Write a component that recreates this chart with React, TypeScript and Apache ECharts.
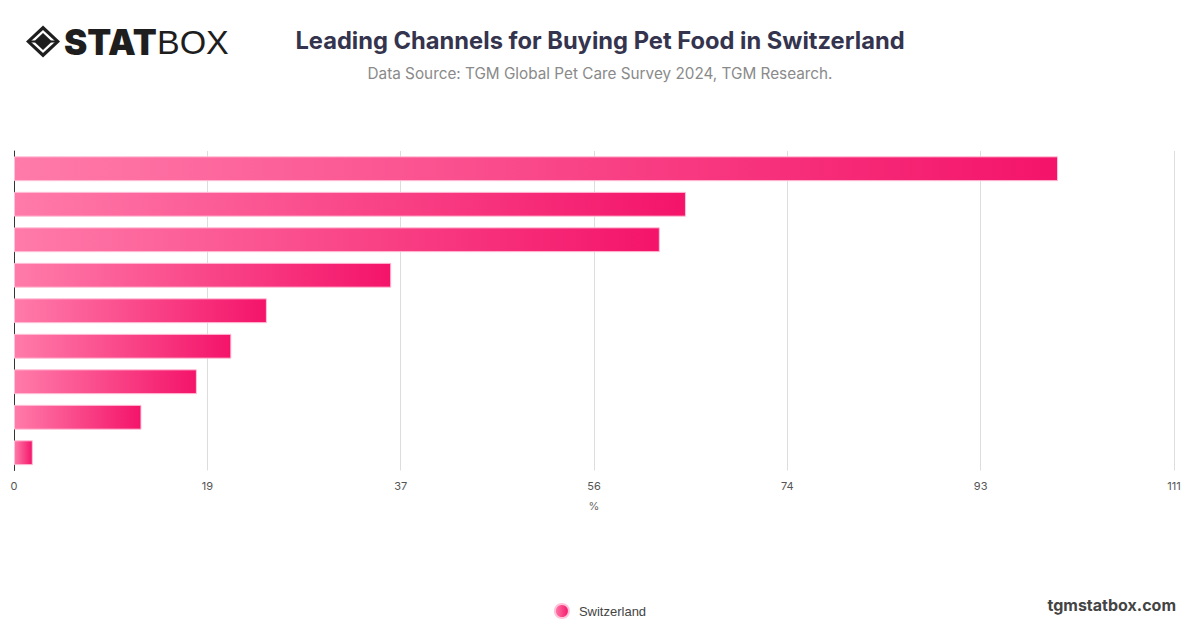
import React, { useEffect, useRef } from "react";
import * as echarts from "echarts";

const categories = [
  "Supermarket / hypermarket",
  "Pet store",
  "Online pet store",
  "Discount store",
  "Veterinarian",
  "Online marketplace",
  "Garden center",
  "Convenience store",
  "Other",
];
const seriesName = "Switzerland";
const values = [99.9, 64.3, 61.8, 36.1, 24.2, 20.8, 17.5, 12.2, 1.8];
const axisMax = 111;
const axisInterval = 18.5;

export default function App() {
  const ref = useRef<HTMLDivElement>(null);
  useEffect(() => {
    document.body.style.margin = "0";
    const chart = echarts.init(ref.current!, null, { renderer: "svg" });
    const barColor = new echarts.graphic.LinearGradient(0, 0, 1, 0, [
      { offset: 0, color: "#ff7ba9" },
      { offset: 1, color: "#f4146a" },
    ]);
    chart.setOption({
      animation: false,
      backgroundColor: "#ffffff",
      title: [
        {
          text: "Leading Channels for Buying Pet Food in Switzerland",
          left: 595,
          textAlign: "center",
          top: 23,
          textStyle: {
            fontFamily: "Inter",
            fontSize: 23.7,
            fontWeight: "bold",
            color: "#34344e",
          },
        },
        {
          text: "Data Source: TGM Global Pet Care Survey 2024, TGM Research.",
          left: 595,
          textAlign: "center",
          top: 61,
          textStyle: {
            fontFamily: "Inter",
            fontSize: 15.3,
            fontWeight: "normal",
            color: "#8a8a8a",
          },
        },
      ],
      legend: {
        data: [seriesName],
        bottom: 4,
        left: "center",
        icon: "circle",
        itemWidth: 14,
        itemHeight: 14,
        textStyle: {
          fontFamily: "Liberation Sans",
          fontSize: 13,
          color: "#444",
          padding: [0, 0, 0, 5],
        },
      },
      grid: { left: 14, right: 26, top: 151, bottom: 157.5, containLabel: false },
      xAxis: {
        type: "value",
        min: 0,
        max: axisMax,
        interval: axisInterval,
        name: "%",
        nameLocation: "middle",
        nameGap: 30,
        nameTextStyle: { fontFamily: "Inter", fontSize: 11, color: "#666" },
        axisLine: { show: false },
        axisTick: { show: false },
        axisLabel: {
          fontFamily: "Inter",
          fontSize: 11,
          color: "#555",
          margin: 10,
          formatter: (v: number) => String(Math.round(v)),
        },
        splitLine: { show: true, lineStyle: { color: "#dddddd", width: 1 } },
      },
      yAxis: {
        type: "category",
        data: categories,
        inverse: true,
        axisLine: { show: true, lineStyle: { color: "#333", width: 1 } },
        axisTick: { show: false },
        axisLabel: { show: false },
        splitLine: { show: false },
      },
      series: [
        {
          name: seriesName,
          type: "bar",
          data: values,
          barCategoryGap: "30%",
          itemStyle: {
            color: barColor,
            borderColor: "#ffc2d8",
            borderWidth: 1,
          },
        },
      ],
      graphic: [
        {
          type: "group",
          left: 26,
          top: 24,
          children: [
            {
              type: "polygon",
              shape: { points: [[17, 0], [34, 16], [17, 32], [0, 16]] },
              style: { fill: "#1e1e1e" },
            },
            {
              type: "polygon",
              shape: { points: [[17, 4.5], [29.5, 16], [17, 27.5], [4.5, 16]] },
              style: { fill: "#ffffff" },
            },
            {
              type: "polygon",
              shape: { points: [[17, 7.5], [26, 16], [17, 24.5], [8, 16]] },
              style: { fill: "#1e1e1e" },
            },
            {
              type: "line",
              shape: { x1: 4, y1: 16, x2: 9, y2: 16 },
              style: { stroke: "#1e1e1e", lineWidth: 2 },
            },
            {
              type: "line",
              shape: { x1: 25, y1: 16, x2: 30, y2: 16 },
              style: { stroke: "#1e1e1e", lineWidth: 2 },
            },
            {
              type: "text",
              x: 38,
              y: 16,
              style: {
                text: "STAT",
                fontFamily: "Inter",
                fontWeight: 900,
                fontSize: 35,
                fill: "#1e1e1e",
                verticalAlign: "middle",
              },
            },
            {
              type: "text",
              x: 131,
              y: 16,
              style: {
                text: "BOX",
                fontFamily: "Liberation Sans",
                fontWeight: "normal",
                fontSize: 34,
                fill: "#1e1e1e",
                verticalAlign: "middle",
              },
            },
          ],
        },
        {
          type: "text",
          right: 24,
          top: 597,
          style: {
            text: "tgmstatbox.com",
            fontFamily: "Inter",
            fontWeight: "bold",
            fontSize: 16,
            fill: "#444",
          },
        },
      ],
    });
    return () => chart.dispose();
  }, []);
  return (
    <div
      ref={ref}
      style={{ width: 1200, height: 628, position: "absolute", left: 0, top: 0 }}
    />
  );
}
